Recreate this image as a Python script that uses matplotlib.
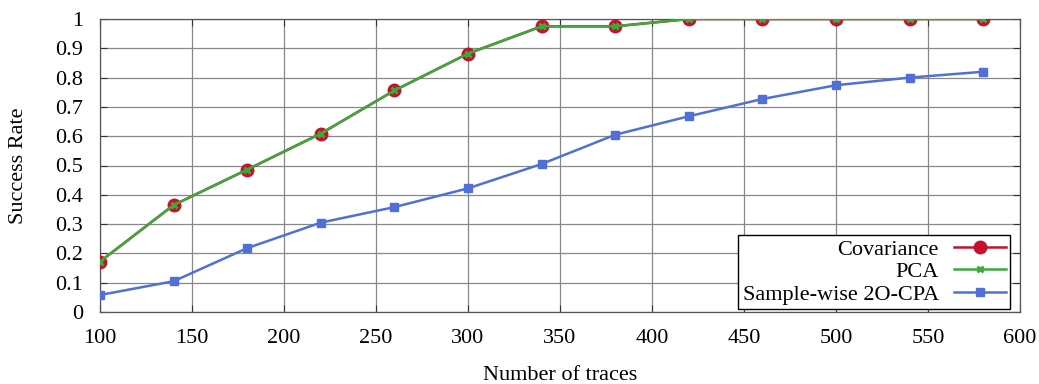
import matplotlib
matplotlib.use("Agg")
import matplotlib.pyplot as plt
from matplotlib.ticker import FuncFormatter

plt.rcParams['font.family'] = ['Liberation Serif', 'DejaVu Serif']
plt.rcParams['mathtext.fontset'] = 'stix'

traces = [100, 140, 180, 220, 260, 300, 340, 380, 420, 460, 500, 540, 580]
covariance = [0.172, 0.365, 0.486, 0.609, 0.756, 0.882, 0.975, 0.975, 1.0, 1.0, 1.0, 1.0, 1.0]
pca = [0.172, 0.365, 0.486, 0.609, 0.756, 0.882, 0.975, 0.975, 1.0, 1.0, 1.0, 1.0, 1.0]
samplewise = [0.058, 0.105, 0.218, 0.305, 0.358, 0.422, 0.505, 0.605, 0.668, 0.727, 0.774, 0.800, 0.820]
labels = ["Covariance", "PCA", "Sample-wise 2O-CPA"]

fig = plt.figure(figsize=(10.39, 3.84), dpi=100)
ax = fig.add_axes([100/1039, 1-312/384, 920/1039, 293/384])

fs = 16
ax.plot(traces, covariance, color='#c8102e', lw=1.8, marker='o', ms=9, label=labels[0], zorder=3)
ax.plot(traces, pca, color='#3aaa3a', lw=1.8, marker='x', ms=5, mew=2, label=labels[1], zorder=4)
ax.plot(traces, samplewise, color='#5070d8', lw=1.8, marker='s', ms=6, label=labels[2], zorder=3)

ax.set_xlim(100, 600)
ax.set_ylim(0, 1)
ax.set_xticks(range(100, 601, 50))
ax.set_yticks([i/10 for i in range(11)])
ax.yaxis.set_major_formatter(FuncFormatter(lambda v, p: f"{v:g}"))
ax.tick_params(direction='in', length=5, width=0.8, top=True, right=True, labelsize=fs, color='#333333')
ax.tick_params(axis='x', pad=12)
ax.tick_params(axis='y', pad=12)
ax.grid(True, color='#888888', lw=0.9)
ax.set_axisbelow(True)
for s in ax.spines.values():
    s.set_color('#555555')
    s.set_linewidth(0.9)

ax.set_xlabel("Number of traces", fontsize=fs, labelpad=13)
ax.set_ylabel("Success Rate", fontsize=fs, labelpad=20)

leg = ax.legend(loc='lower right', bbox_to_anchor=(910/920, 3/293), markerfirst=False,
                fancybox=False, framealpha=1, edgecolor='black', fontsize=fs,
                borderaxespad=0, handlelength=2.3, labelspacing=0.08, borderpad=0.2,
                handletextpad=0.7)
leg.get_frame().set_linewidth(1.0)

fig.savefig("out.png", dpi=100)
